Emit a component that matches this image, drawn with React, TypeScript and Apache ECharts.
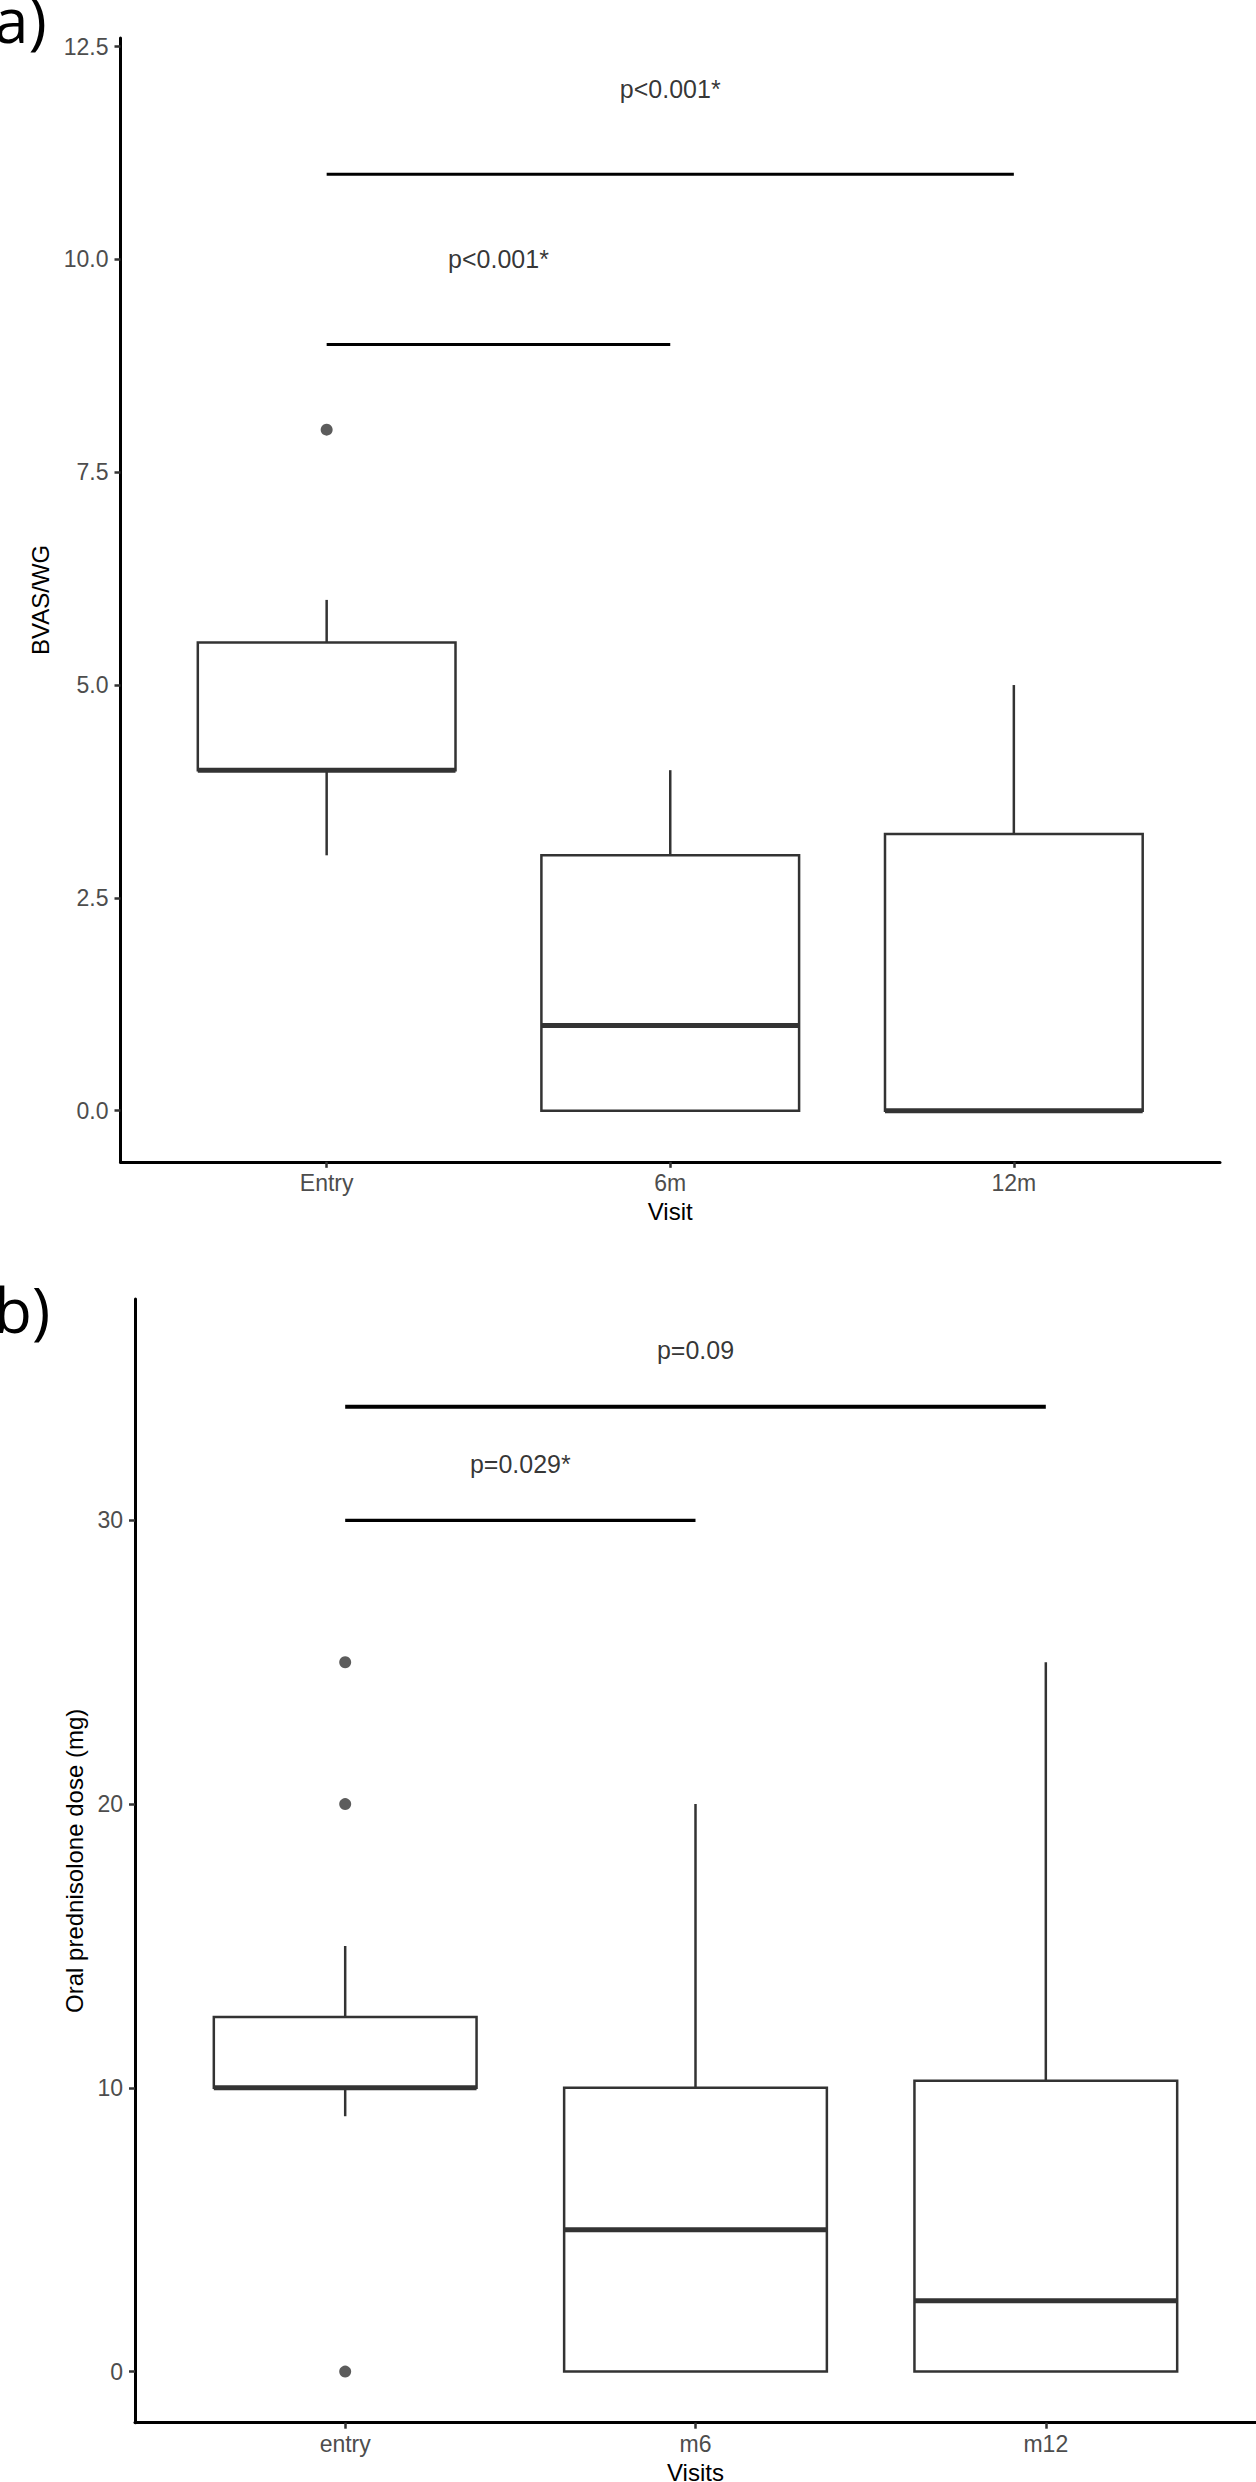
import React, { useEffect, useRef } from "react";
import * as echarts from "echarts";

// ---------- Data ----------
// Panel a: BVAS/WG by visit
const visitsA = ["Entry", "6m", "12m"];
// [x, min, Q1, median, Q3, max]
const boxesA = [
  [1, 3, 4, 4, 5.5, 6],
  [2, 0, 0, 1, 3, 4],
  [3, 0, 0, 0, 3.25, 5],
];
const outliersA = [[1, 8]];
const yTicksA = [0, 2.5, 5, 7.5, 10, 12.5];
const bracketA1 = [[1, 11], [3, 11]];
const bracketA2 = [[1, 9], [2, 9]];
const pTextA = [
  [2, 12, "p<0.001*"],
  [1.5, 10, "p<0.001*"],
];

// Panel b: oral prednisolone dose by visit
const visitsB = ["entry", "m6", "m12"];
const boxesB = [
  [1, 9, 10, 10, 12.5, 15],
  [2, 0, 0, 5, 10, 20],
  [3, 0, 0, 2.5, 10.25, 25],
];
const outliersB = [[1, 0], [1, 20], [1, 25]];
const yTicksB = [0, 10, 20, 30];
const bracketB1 = [[1, 34], [3, 34]];
const bracketB2 = [[1, 30], [2, 30]];
const pTextB = [
  [2, 36, "p=0.09"],
  [1.5, 32, "p=0.029*"],
];

const xTicks = [1, 2, 3];

// ---------- Styling ----------
const FONT = "'Liberation Sans', Arial, Helvetica, sans-serif";
const BOX_COLOR = "#333333";

const renderBox = (params: any, api: any) => {
  const x = api.value(0);
  const p = (v: number) => api.coord([x, v]);
  const lo = p(api.value(1));
  const q1 = p(api.value(2));
  const med = p(api.value(3));
  const q3 = p(api.value(4));
  const hi = p(api.value(5));
  const half = api.size([0.75, 0])[0] / 2;
  const cx = lo[0];
  const stroke = { stroke: BOX_COLOR, lineWidth: 2.5 };
  return {
    type: "group",
    children: [
      { type: "line", shape: { x1: cx, y1: hi[1], x2: cx, y2: q3[1] }, style: stroke },
      { type: "line", shape: { x1: cx, y1: q1[1], x2: cx, y2: lo[1] }, style: stroke },
      {
        type: "rect",
        shape: { x: cx - half, y: q3[1], width: 2 * half, height: q1[1] - q3[1] },
        style: { fill: "#ffffff", ...stroke },
      },
      {
        type: "line",
        shape: { x1: cx - half, y1: med[1], x2: cx + half, y2: med[1] },
        style: { stroke: BOX_COLOR, lineWidth: 5 },
      },
    ],
  };
};

const xAxisFor = (gridIndex: number, cats: string[], name: string) => ({
  type: "value",
  gridIndex,
  min: 0.4,
  max: 3.6,
  name,
  nameLocation: "middle",
  nameGap: 38,
  nameTextStyle: { fontSize: 24, color: "#000", fontFamily: FONT },
  axisLine: { show: true, onZero: false, lineStyle: { color: "#000", width: 3 } },
  axisTick: {
    show: true,
    length: 6,
    customValues: xTicks,
    lineStyle: { color: BOX_COLOR, width: 2.5 },
  },
  axisLabel: {
    customValues: xTicks,
    formatter: (v: number) => cats[Math.round(v) - 1] ?? "",
    margin: 10,
    fontSize: 23,
    color: "#4d4d4d",
    fontFamily: FONT,
  },
  splitLine: { show: false },
});

const yAxisFor = (
  gridIndex: number,
  min: number,
  max: number,
  ticks: number[],
  name: string,
  nameGap: number,
  fmt: (v: number) => string
) => ({
  type: "value",
  gridIndex,
  min,
  max,
  name,
  nameLocation: "middle",
  nameGap,
  nameRotate: 90,
  nameTextStyle: { fontSize: 24, color: "#000", fontFamily: FONT },
  axisLine: { show: true, onZero: false, lineStyle: { color: "#000", width: 3 } },
  axisTick: {
    show: true,
    length: 6,
    customValues: ticks,
    lineStyle: { color: BOX_COLOR, width: 2.5 },
  },
  axisLabel: {
    customValues: ticks,
    formatter: fmt,
    margin: 12,
    fontSize: 23,
    color: "#4d4d4d",
    fontFamily: FONT,
  },
  splitLine: { show: false },
});

const bracket = (data: number[][], axisIndex: number, width: number) => ({
  type: "line",
  xAxisIndex: axisIndex,
  yAxisIndex: axisIndex,
  data,
  symbol: "none",
  silent: true,
  z: 5,
  lineStyle: { color: "#000", width, cap: "butt" },
});

const pLabels = (data: any[], axisIndex: number) => ({
  type: "scatter",
  xAxisIndex: axisIndex,
  yAxisIndex: axisIndex,
  data,
  symbolSize: 1,
  silent: true,
  z: 6,
  itemStyle: { color: "rgba(0,0,0,0)" },
  label: {
    show: true,
    position: "inside",
    formatter: (p: any) => p.value[2],
    color: "#000",
    fontSize: 25,
    fontFamily: FONT,
  },
});

const boxes = (data: number[][], axisIndex: number) => ({
  type: "custom",
  xAxisIndex: axisIndex,
  yAxisIndex: axisIndex,
  data,
  encode: { x: 0, y: [1, 2, 3, 4, 5] },
  renderItem: renderBox,
  silent: true,
  z: 2,
});

const outliers = (data: number[][], axisIndex: number) => ({
  type: "scatter",
  xAxisIndex: axisIndex,
  yAxisIndex: axisIndex,
  data,
  symbol: "circle",
  symbolSize: 12,
  silent: true,
  z: 3,
  itemStyle: { color: BOX_COLOR },
});

const option: any = {
  animation: false,
  backgroundColor: "#ffffff",
  grid: [
    { left: 120.5, width: 1099.5, top: 38, height: 1123.8, outerBoundsMode: "none" },
    { left: 135, width: 1121, top: 1299, height: 1123.7, outerBoundsMode: "none" },
  ],
  xAxis: [xAxisFor(0, visitsA, "Visit"), xAxisFor(1, visitsB, "Visits")],
  yAxis: [
    yAxisFor(0, -0.6, 12.6, yTicksA, "BVAS/WG", 66, (v) => v.toFixed(1)),
    yAxisFor(1, -1.8, 37.8, yTicksB, "Oral prednisolone dose (mg)", 48, (v) => String(Math.round(v))),
  ],
  graphic: [
    {
      type: "text",
      x: -6,
      y: 19,
      style: {
        text: "a)",
        fontSize: 62,
        fontFamily: "'Open Sans', sans-serif",
        fill: "#000",
        verticalAlign: "middle",
      },
    },
    {
      type: "text",
      x: -6,
      y: 1309,
      style: {
        text: "b)",
        fontSize: 62,
        fontFamily: "'Open Sans', sans-serif",
        fill: "#000",
        verticalAlign: "middle",
      },
    },
  ],
  series: [
    boxes(boxesA, 0),
    outliers(outliersA, 0),
    bracket(bracketA1, 0, 3),
    bracket(bracketA2, 0, 3),
    pLabels(pTextA, 0),
    boxes(boxesB, 1),
    outliers(outliersB, 1),
    bracket(bracketB1, 1, 4),
    bracket(bracketB2, 1, 3.3),
    pLabels(pTextB, 1),
  ],
};

export default function App() {
  const ref = useRef<HTMLDivElement>(null);
  useEffect(() => {
    if (!ref.current) return;
    const chart = echarts.init(ref.current, null, { renderer: "svg" });
    chart.setOption(option);
    return () => chart.dispose();
  }, []);
  return (
    <div
      ref={ref}
      style={{
        position: "absolute",
        left: 0,
        top: 0,
        width: 1256,
        height: 2482,
        background: "#ffffff",
      }}
    />
  );
}
